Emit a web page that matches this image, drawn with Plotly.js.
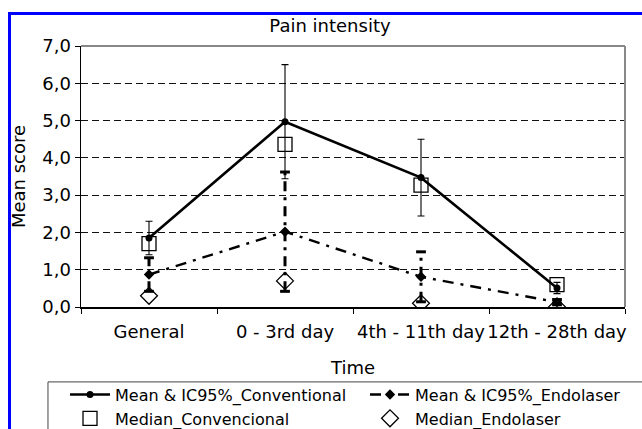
<!DOCTYPE html>
<html>
<head>
<meta charset="utf-8">
<script src="https://cdn.plot.ly/plotly-3.0.1.min.js"></script>
<style>
  html, body { margin: 0; padding: 0; background: #fff; overflow: hidden; }
  #chart { width: 642px; height: 429px; position: absolute; left: 0; top: 0; }
  #frame { position: absolute; left: 8px; top: 12px; width: 1000px; height: 1000px;
           border-left: 3px solid #0000ff; border-top: 3px solid #0000ff; pointer-events: none; }
</style>
</head>
<body>
<div id="chart"></div>
<div id="frame"></div>
<script>
// ---- data ----
const categories = ['General', '0 - 3rd day', '4th - 11th day', '12th - 28th day'];
const convMean   = [1.85, 4.97, 3.47, 0.51];
const convCI     = [0.45, 1.53, 1.03, 0.15];
const endoMean   = [0.87, 2.02, 0.81, 0.13];
const endoCI     = [0.45, 1.60, 0.67, 0.07];
const convMedian = [1.70, 4.36, 3.27, 0.60];
const endoMedian = [0.30, 0.70, 0.10, 0.00];
const yTicks     = [0, 1, 2, 3, 4, 5, 6, 7];

const FONT = 'DejaVu Sans, Arial, sans-serif';

// endolaser CI segments built from mean +/- ci
const ciX = [], ciY = [];
categories.forEach((c, i) => {
  ciX.push(c, c, null);
  ciY.push(endoMean[i] - endoCI[i], endoMean[i] + endoCI[i], null);
});

const traces = [
  {
    name: 'Mean & IC95%_Conventional',
    x: categories, y: convMean, type: 'scatter', mode: 'lines+markers',
    line: { color: '#000', width: 2.6 },
    marker: { symbol: 'circle', size: 7, color: '#000' },
    error_y: { type: 'data', array: convCI, visible: true, color: '#000', thickness: 1.1, width: 3.5 }
  },
  {
    name: 'Mean & IC95%_Endolaser',
    x: categories, y: endoMean, type: 'scatter', mode: 'lines+markers',
    line: { color: '#000', width: 2.4, dash: '11px,7px,3px,7px' },
    marker: { symbol: 'diamond', size: 8, color: '#000' }
  },
  {
    name: 'Median_Convencional',
    x: categories, y: convMedian, type: 'scatter', mode: 'markers',
    marker: { symbol: 'square-open', size: 14, color: '#000', line: { width: 1.3, color: '#000' } }
  },
  {
    name: 'Median_Endolaser',
    x: categories, y: endoMedian, type: 'scatter', mode: 'markers',
    marker: { symbol: 'diamond-open', size: 13, color: '#000', line: { width: 1.3, color: '#000' } }
  },
  {
    name: 'endo CI', showlegend: false, hoverinfo: 'skip',
    x: ciX, y: ciY, type: 'scatter', mode: 'lines+markers', connectgaps: false,
    line: { color: '#000', width: 3, dash: '10px,6px,3px,6px' },
    marker: { symbol: 'line-ew', size: 7, color: '#000', line: { width: 3, color: '#000' } }
  }
];

const layout = {
  width: 642, height: 429,
  margin: { l: 81, r: 17, t: 46, b: 122, autoexpand: false },
  paper_bgcolor: '#fff', plot_bgcolor: '#fff',
  separators: ',.',
  font: { family: FONT, size: 18, color: '#000' },
  showlegend: true,
  title: {
    text: 'Pain intensity', font: { family: FONT, size: 18, color: '#000' },
    xref: 'container', yref: 'container', x: 0.514, xanchor: 'center', y: 0.94, yanchor: 'middle'
  },
  xaxis: {
    type: 'category', range: [-0.5, 3.5],
    showline: true, linecolor: '#000', linewidth: 1.5,
    ticks: 'outside', tickson: 'boundaries', ticklen: 5, tickcolor: '#000', tickwidth: 1,
    tickangle: 0, showgrid: false, zeroline: false, ticklabelstandoff: 8,
    tickfont: { family: FONT, size: 18, color: '#000' },
    title: { text: 'Time', font: { family: FONT, size: 18, color: '#000' }, standoff: 20 }
  },
  yaxis: {
    range: [0, 7], tickvals: yTicks, tickformat: '.1f',
    showline: true, linecolor: '#000', linewidth: 1.5,
    ticks: 'outside', ticklen: 5, tickcolor: '#000', tickwidth: 1,
    showgrid: true, gridcolor: '#111', gridwidth: 1, griddash: '7px,4px',
    zeroline: false,
    tickfont: { family: FONT, size: 18, color: '#000' },
    title: { text: 'Mean score', font: { family: FONT, size: 18, color: '#000' }, standoff: 12 }
  },
  shapes: [
    { type: 'line', xref: 'paper', yref: 'paper', x0: 0, x1: 1, y0: 1, y1: 1, line: { color: '#888', width: 2 } },
    { type: 'line', xref: 'paper', yref: 'paper', x0: 1, x1: 1, y0: 0, y1: 1, line: { color: '#888', width: 2 } },
    // legend frame (extends past the picture edges, as in the reference)
    { type: 'rect', xref: 'paper', yref: 'paper', x0: -0.0607, x1: 1.2, y0: -0.287, y1: -0.7,
      line: { color: '#444', width: 1 }, fillcolor: 'rgba(0,0,0,0)' }
  ],
  legend: {
    orientation: 'h', x: -0.0294, xanchor: 'left', y: -0.2705, yanchor: 'top',
    bgcolor: 'rgba(0,0,0,0)', borderwidth: 0,
    font: { family: FONT, size: 16, color: '#000' },
    entrywidth: 245, entrywidthmode: 'pixels', itemwidth: 40, tracegroupgap: 0
  }
};

Plotly.newPlot('chart', traces, layout, { staticPlot: true, displayModeBar: false });
</script>
</body>
</html>
